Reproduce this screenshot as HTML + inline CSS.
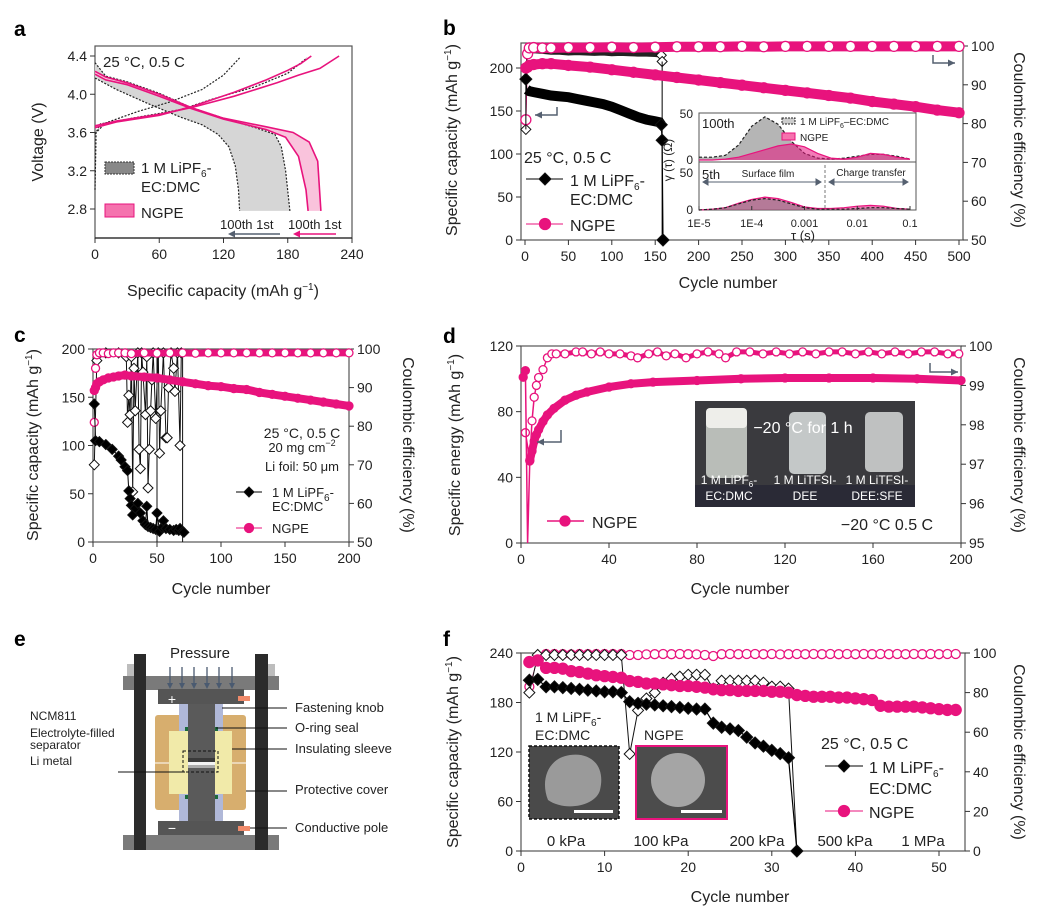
<!DOCTYPE html>
<html><head><meta charset="utf-8"><style>
body{margin:0;background:#fff;}
svg{display:block;font-family:"Liberation Sans",sans-serif;}
</style></head><body>
<svg id="fig" width="1046" height="913" viewBox="0 0 1046 913" xmlns="http://www.w3.org/2000/svg"></svg>
<script>
// ---------- DATA ----------
const aNgpeDis1 = [[0,4.24],[10,4.18],[30,4.12],[60,4.0],[90,3.86],[120,3.75],[160,3.66],[185,3.6],[200,3.5],[208,3.3],[211,2.78]];
const aNgpeDis100 = [[0,4.21],[10,4.15],[30,4.1],[60,3.98],[90,3.85],[120,3.74],[160,3.63],[178,3.55],[190,3.35],[197,3.0],[199,2.78]];
const aNgpeCh1 = [[0,3.67],[20,3.72],[60,3.79],[90,3.86],[130,3.98],[170,4.12],[190,4.2],[210,4.27],[228,4.4]];
const aNgpeCh100 = [[0,3.65],[20,3.71],[60,3.78],[90,3.87],[130,4.02],[160,4.15],[180,4.25],[192,4.32],[202,4.4]];
const aRefDis1 = [[0,4.33],[10,4.19],[30,4.13],[60,4.01],[90,3.86],[120,3.75],[150,3.65],[168,3.58],[174,3.45],[178,3.2],[182,2.78]];
const aRefDis100 = [[0,4.17],[20,4.05],[50,3.9],[80,3.76],[100,3.68],[115,3.58],[125,3.45],[131,3.25],[134,3.0],[135,2.78]];
const aRefCh1 = [[0,3.58],[5,3.69],[40,3.76],[80,3.84],[110,3.95],[150,4.08],[180,4.22],[198,4.38]];
const aRefCh100 = [[0,3.0],[1,3.6],[10,3.7],[40,3.82],[70,3.92],[100,4.05],[120,4.2],[135,4.38]];
const bNgpeCycles = [1,3,5,10,20,30,50,75,100,125,150,175,200,225,250,275,300,325,350,375,400,425,450,475,500];
const bNgpeCap = [200,201,203,204,205,205,203,201,198,195,192,189,186,183,180,177,174,171,168,165,161,158,155,151,148];
const bNgpeCE = [81,98,99.5,99.6,99.5,99.5,99.6,99.6,99.7,99.6,99.7,99.8,99.8,99.8,99.9,99.8,99.9,99.9,99.9,99.9,99.9,99.9,99.9,99.9,99.9];
const bRefCycles = [1,2,5,10,20,30,40,50,60,70,80,90,100,110,120,130,140,150,155,157,158,159];
const bRefCap = [187,175,173,172,170,168,167,166,164,162,160,158,155,151,147,143,140,138,137,134,116,0];
const bRefCE = [78.5,99,98.5,98.8,98.6,98.4,98.4,98.2,98.3,98.2,98.1,98.2,98.0,98.1,98.0,97.9,97.9,97.8,97.7,97.6,96,null];
const drtLog = [-5,-4.75,-4.5,-4.25,-4,-3.75,-3.5,-3.25,-3,-2.75,-2.5,-2.25,-2,-1.75,-1.5,-1.25,-1];
const drt100Ref = [3,3,5,16,36,46,38,20,7,2,1,2,4,6,6,4,1];
const drt100Ngpe = [0,0,1,3,7,11,15,17,14,7,2,1,3,7,6,3,1];
const drt5Ref = [0,1,3,8,13,15,13,8,3,1,1,1,2,3,3,2,1];
const drt5Ngpe = [0,1,3,9,14,17,15,10,4,2,2,3,5,6,5,2,1];
const cNgpeCycles = [1,2,3,5,8,12,16,20,25,30,40,50,60,70,80,90,100,110,120,130,140,150,160,170,180,190,200];
const cNgpeCap = [157,160,164,166,168,170,171,172,173,172,171,170,168,166,164,162,161,159,158,155,153,151,149,147,145,143,141];
const cNgpeCE = [81,95,98.5,99,99,98.8,99,99,99,98.8,99,98.9,99,99,98.9,99,99,99,99,99,99,99,99,99,99,99,99];
const cRefCycles = [1,2,5,10,15,20,22,25,27,28,29,30,31,33,35,37,39,41,42,43,45,47,49,50,52,54,55,57,60,63,65,67,68,70,71];
const cRefCap = [143,105,104,101,96,89,85,78,74,53,45,38,28,35,40,30,22,18,37,16,15,14,13,30,11,15,22,14,13,12,13,12,14,11,10];
const cRefCECycles = [1,3,10,20,26,27,28,29,30,31,32,33,35,36,37,38,39,41,42,43,44,45,46,47,49,51,52,53,55,57,58,59,61,63,64,66,68,69];
const cRefCE = [70,97,99,99,98,81,88,83,98,63,95,84,99,74,69,99,94,83,98,64,74,84,92,99,82,99,73,84,99,77,77,90,99,95,89,99,75,99];
const dCycles = [1,2,3,4,5,6,7,8,10,12,15,20,25,30,40,50,60,80,100,120,140,160,180,200];
const dEnergy = [101,105,0,50,56,62,66,69,74,78,82,87,90,92,95,97,98,99,100,100.5,100.5,100.5,100,99];
const dCECycles = [2,4,5,6,7,8,10,12,14,16,20,25,28,32,36,40,45,50,53,58,62,66,70,75,80,85,90,93,98,104,110,116,122,128,134,140,146,152,158,164,170,176,182,188,194,199];
const dCE = [97.8,97.1,98.1,98.7,99.0,99.2,99.4,99.7,99.8,99.8,99.8,99.85,99.85,99.8,99.85,99.8,99.8,99.75,99.7,99.8,99.85,99.75,99.8,99.7,99.8,99.85,99.8,99.7,99.85,99.85,99.8,99.85,99.8,99.85,99.8,99.85,99.85,99.8,99.85,99.8,99.85,99.8,99.85,99.85,99.8,99.8];
const fNgpeCap = [229,231,222,222,221,218,217,215,213,212,211,210,206,205,203,203,202,201,200,200,199,198,196,195,195,194,194,194,194,193,193,192,189,188,187,187,187,186,186,185,184,183,176,175,175,175,175,174,173,172,171,171];
const fNgpeCE = [83,97,99.5,99.5,99.4,99.3,99.5,99.4,99.5,99.5,99.5,99.5,99,99,99.3,99.4,99.5,99.4,99.5,99.4,99.3,99,98.5,99.4,99.5,99.4,99.5,99.5,99.4,99.5,99.3,99.4,99.5,99.4,99.5,99.4,99.5,99.4,99.5,99.4,99.5,99.4,99.5,99.4,99.5,99.4,99.5,99.4,99.5,99.4,99.5,99.5];
const fRefCap = [207,208,199,199,198,197,196,195,194,193,193,192,181,179,178,177,176,175,174,173,172,172,155,150,148,146,138,131,127,122,118,113,0];
const fRefCE = [80,99,99,99,99,99,99,99,99,99,99,99,49,71,77,80,85,87,88,89,89,89,82,86,86,86,86,86,85,83,83,82];

// ---------- HELPERS ----------
const NS='http://www.w3.org/2000/svg';
const svg=document.getElementById('fig');
const PINK='#e8137d';
function el(tag,attrs,name,parent){
  const e=document.createElementNS(NS,tag);
  for(const k in attrs) e.setAttribute(k,attrs[k]);
  
  
  (parent||svg).appendChild(e);
  return e;
}
function txt(x,y,s,name,o){
  o=o||{};
  const t=el('text',{x:x,y:y,'font-size':o.fs||14,fill:o.fill||'#222','text-anchor':o.anchor||'start','font-weight':o.fw||'normal'},name);
  if(o.rot) t.setAttribute('transform','rotate('+o.rot+' '+x+' '+y+')');
  t.innerHTML=s;
  return t;
}
function lin(d0,d1,r0,r1){return v=>r0+(v-d0)*(r1-r0)/(d1-d0);}
function pathOf(pts,X,Y){return pts.map((p,i)=>(i?'L':'M')+X(p[0]).toFixed(1)+','+Y(p[1]).toFixed(1)).join('');}
function box(x0,y0,x1,y1,name){el('rect',{x:x0,y:y0,width:x1-x0,height:y1-y0,fill:'none',stroke:'#555','stroke-width':1.2},name);}
function xTicks(vals,X,y,name,fs,labels){vals.forEach((v,i)=>{el('line',{x1:X(v),x2:X(v),y1:y,y2:y+5,stroke:'#333'},name+'-tick');txt(X(v),y+21,labels?labels[i]:v,name+'-label',{anchor:'middle',fs:fs||14});});}
function yTicks(vals,Y,x,side,name,fs,dec){vals.forEach(v=>{const d=side<0?-5:5;el('line',{x1:x,x2:x+d,y1:Y(v),y2:Y(v),stroke:'#333'},name+'-tick');txt(x+(side<0?-8:8),Y(v)+5,dec?v.toFixed(dec):v,name+'-label',{anchor:side<0?'end':'start',fs:fs||14});});}
function diamond(x,y,r,fill,name){el('path',{d:`M${x},${y-r}L${x+r},${y}L${x},${y+r}L${x-r},${y}Z`,fill:fill,stroke:'#111','stroke-width':1},name);}
function circ(x,y,r,fill,name){el('circle',{cx:x,cy:y,r:r,fill:fill,stroke:PINK,'stroke-width':1.3},name);}
function arrowL(xv,ytop,yb,xend,name){el('path',{d:`M${xv},${ytop}V${yb}H${xend}`,fill:'none',stroke:'#556070','stroke-width':1.5},name);el('path',{d:`M${xend},${yb}l7,-3.5v7z`,fill:'#556070'},name+'-head');}
function arrowR(xv,ytop,yb,xend,name){el('path',{d:`M${xv},${ytop}V${yb}H${xend}`,fill:'none',stroke:'#556070','stroke-width':1.5},name);el('path',{d:`M${xend},${yb}l-7,-3.5v7z`,fill:'#556070'},name+'-head');}
const LIPF='1 M LiPF<tspan dy="4" font-size="10">6</tspan><tspan dy="-4">-</tspan>';
const GUNIT='(mAh g<tspan dy="-6" font-size="10">−1</tspan><tspan dy="6">)</tspan>';

[['a',14,36],['b',443,35],['c',14,342],['d',443,343],['e',14,646],['f',443,646]].forEach(p=>txt(p[1],p[2],p[0],'panel-label-'+p[0],{fs:21,fw:'bold',fill:'#000'}));

// ---------- PANEL A ----------
(function(){
  const X=lin(0,240,95,352), Y=lin(2.8,4.4,209,56);
  box(95,46,352,238,'panel-a-plot-area');
  xTicks([0,60,120,180,240],X,238,'panel-a-x');
  yTicks([2.8,3.2,3.6,4.0,4.4],Y,95,-1,'panel-a-y',14,1);
  el('line',{x1:95,x2:352,y1:238,y2:238,stroke:'#222','stroke-width':1.3},'panel-a-x-axis');
  const band=(p1,p2,fill,name)=>el('path',{d:pathOf(p1,X,Y)+pathOf(p2.slice().reverse(),X,Y).replace('M','L')+'Z',fill:fill,stroke:'none'},name);
  band(aRefDis1,aRefDis100,'#d6d6d6','ref-discharge-band');
  band(aNgpeDis1,aNgpeDis100,'#f9c3dc','ngpe-discharge-band');
  [aRefDis1,aRefDis100,aRefCh1,aRefCh100].forEach((c,i)=>el('path',{d:pathOf(c,X,Y),fill:'none',stroke:'#222','stroke-width':1.2,'stroke-dasharray':'2,1.5'},'ref-curve-'+i));
  [aNgpeDis1,aNgpeDis100,aNgpeCh1,aNgpeCh100].forEach((c,i)=>el('path',{d:pathOf(c,X,Y),fill:'none',stroke:PINK,'stroke-width':1.6},'ngpe-curve-'+i));
  txt(103,67,'25 °C, 0.5 C','panel-a-condition',{fs:15});
  el('rect',{x:105,y:162,width:29,height:12,fill:'#888',stroke:'#333','stroke-dasharray':'2,1'},'legend-ref-swatch');
  txt(141,173,LIPF,'legend-ref-label',{fs:15});txt(141,192,'EC:DMC','legend-ref-label2',{fs:15});
  el('rect',{x:105,y:204,width:29,height:13,fill:'#f573ae',stroke:PINK},'legend-ngpe-swatch');
  txt(141,218,'NGPE','legend-ngpe-label',{fs:15});
  txt(220,229,'100th  1st','ref-cycle-label',{fs:13});txt(288,229,'100th 1st','ngpe-cycle-label',{fs:13});
  el('line',{x1:280,x2:232,y1:234,y2:234,stroke:'#556070','stroke-width':1.5},'ref-arrow');el('path',{d:'M228,234l7,-3.5v7z',fill:'#556070'},'ref-arrow-head');
  el('line',{x1:336,x2:297,y1:234,y2:234,stroke:PINK,'stroke-width':1.5},'ngpe-arrow');el('path',{d:'M293,234l7,-3.5v7z',fill:PINK},'ngpe-arrow-head');
  txt(43,142,'Voltage (V)','panel-a-y-title',{fs:16,rot:-90,anchor:'middle'});
  txt(223,296,'Specific capacity '+GUNIT,'panel-a-x-title',{fs:16,anchor:'middle'});
})();

// ---------- PANEL B ----------
(function(){
  const X=lin(0,500,525,959), Y=lin(0,200,240,68), R=lin(50,100,240,46);
  box(521,43,963,240,'panel-b-plot-area');
  xTicks([0,50,100,150,200,250,300,350,400,450,500],X,240,'panel-b-x');
  yTicks([0,50,100,150,200],Y,521,-1,'panel-b-y-left');
  yTicks([50,60,70,80,90,100],R,963,1,'panel-b-y-right');
  const rce=bRefCycles.map((c,i)=>[c,bRefCE[i]]).filter(p=>p[1]!==null);
  el('path',{d:pathOf(rce.slice(1),X,R),fill:'none',stroke:'#222','stroke-width':5},'ref-ce-band');
  el('path',{d:pathOf(rce.slice(0,2),X,R),fill:'none',stroke:'#222','stroke-width':1},'ref-ce-line');
  rce.forEach((p,i)=>{if(i===0||i>=rce.length-2)diamond(X(p[0]),R(p[1]),5,'#fff','ref-ce-point');});
  const nce=bNgpeCycles.map((c,i)=>[c,bNgpeCE[i]]);
  el('path',{d:pathOf(nce.slice(1),X,R),fill:'none',stroke:PINK,'stroke-width':10},'ngpe-ce-band');
  el('path',{d:pathOf(nce.slice(0,2),X,R),fill:'none',stroke:PINK,'stroke-width':1},'ngpe-ce-line');
  nce.forEach(p=>circ(X(p[0]),R(p[1]),5,'#fff','ngpe-ce-point'));
  const rc=bRefCycles.map((c,i)=>[c,bRefCap[i]]);
  el('path',{d:pathOf(rc.slice(1,-2),X,Y),fill:'none',stroke:'#000','stroke-width':10},'ref-capacity-band');
  el('path',{d:pathOf(rc,X,Y),fill:'none',stroke:'#000','stroke-width':1.2},'ref-capacity-line');
  el('line',{x1:X(158),x2:X(158),y1:R(96),y2:240,stroke:'#000','stroke-width':1},'ref-drop-line');
  el('line',{x1:X(1),x2:X(1),y1:Y(187),y2:R(78.5),stroke:'#000','stroke-width':1},'ref-first-line');
  [0,rc.length-3,rc.length-2,rc.length-1].forEach(i=>diamond(X(rc[i][0]),Y(rc[i][1]),6,'#000','ref-capacity-point'));
  const nc=bNgpeCycles.map((c,i)=>[c,bNgpeCap[i]]);
  el('path',{d:pathOf(nc,X,Y),fill:'none',stroke:PINK,'stroke-width':10,'stroke-linecap':'round'},'ngpe-capacity-band');
  nc.forEach(p=>circ(X(p[0]),Y(p[1]),5,PINK,'ngpe-capacity-point'));
  arrowL(557,107,115,535,'left-axis-arrow');arrowR(933,55,63,955,'right-axis-arrow');
  txt(524,163,'25 °C, 0.5 C','panel-b-condition',{fs:16});
  el('line',{x1:526,x2:563,y1:179,y2:179,stroke:'#000'},'legend-ref-line');diamond(545,179,6,'#000','legend-ref-marker');
  txt(570,186,LIPF,'legend-ref-label',{fs:16});txt(570,205,'EC:DMC','legend-ref-label2',{fs:16});
  el('line',{x1:526,x2:563,y1:224,y2:224,stroke:PINK},'legend-ngpe-line');circ(545,224,5.5,PINK,'legend-ngpe-marker');
  txt(570,231,'NGPE','legend-ngpe-label',{fs:16});
  txt(457,140,'Specific capacity '+GUNIT,'panel-b-y-left-title',{fs:16,rot:-90,anchor:'middle'});
  txt(1014,140,'Coulombic efficiency (%)','panel-b-y-right-title',{fs:16,rot:90,anchor:'middle'});
  txt(728,288,'Cycle number','panel-b-x-title',{fs:16,anchor:'middle'});
  el('rect',{x:699,y:113,width:217,height:97,fill:'#fff',stroke:'#555'},'drt-inset-background');
  const LX=lin(-5,-1,699,910), TY=lin(0,50,160,113), BY=lin(0,50,210,172);
  el('line',{x1:699,x2:916,y1:162,y2:162,stroke:'#555'},'drt-divider');
  const area=(vals,Yf,fill,stroke,dash,name)=>{const pts=drtLog.map((l,i)=>[l,vals[i]]);el('path',{d:pathOf(pts,LX,Yf)+`L${LX(-1)},${Yf(0)}L${LX(-5)},${Yf(0)}Z`,fill:fill,stroke:'none'},name+'-fill');el('path',{d:pathOf(pts,LX,Yf),fill:'none',stroke:stroke,'stroke-width':1.2,'stroke-dasharray':dash},name+'-line');};
  area(drt100Ref,TY,'rgba(150,150,150,0.7)','#222','3,2','drt-100th-ref');
  area(drt100Ngpe,TY,'rgba(232,19,125,0.55)',PINK,'','drt-100th-ngpe');
  area(drt5Ngpe,BY,'rgba(232,19,125,0.55)',PINK,'','drt-5th-ngpe');
  area(drt5Ref,BY,'rgba(120,120,120,0.5)','#222','3,2','drt-5th-ref');
  [[-5,'1E-5'],[-4,'1E-4'],[-3,'0.001'],[-2,'0.01'],[-1,'0.1']].forEach(t=>{el('line',{x1:LX(t[0]),x2:LX(t[0]),y1:210,y2:206,stroke:'#333'},'drt-x-tick');txt(LX(t[0]),227,t[1],'drt-x-label',{fs:11,anchor:'middle'});});
  [['50',118],['0',164],['50',177],['0',214]].forEach(t=>txt(693,t[1],t[0],'drt-y-label',{fs:12,anchor:'end'}));
  txt(672,160,'γ (τ) (Ω)','drt-y-title',{fs:12,rot:-90,anchor:'middle'});
  txt(803,240,'τ (s)','drt-x-title',{fs:13,anchor:'middle'});
  txt(702,128,'100th','drt-100th-label',{fs:13});txt(702,179,'5th','drt-5th-label',{fs:13});
  el('rect',{x:782,y:118,width:13,height:6,fill:'#ccc',stroke:'#222','stroke-dasharray':'2,1'},'drt-legend-ref');
  txt(800,125,'1 M LiPF<tspan dy="3" font-size="7">6</tspan><tspan dy="-3">–EC:DMC</tspan>','drt-legend-ref-label',{fs:10});
  el('rect',{x:782,y:133,width:13,height:7,fill:'#f573ae',stroke:PINK},'drt-legend-ngpe');
  txt(800,141,'NGPE','drt-legend-ngpe-label',{fs:10});
  txt(768,177,'Surface film','surface-film-label',{fs:10,anchor:'middle'});
  txt(871,176,'Charge transfer','charge-transfer-label',{fs:10,anchor:'middle'});
  el('line',{x1:825,x2:825,y1:165,y2:209,stroke:'#777','stroke-dasharray':'3,2'},'drt-separator');
  el('path',{d:'M703,182H821M703,182l5,-3v6zM821,182l-5,-3v6z',stroke:'#556070',fill:'#556070'},'surface-film-arrow');
  el('path',{d:'M829,182H908M829,182l5,-3v6zM908,182l-5,-3v6z',stroke:'#556070',fill:'#556070'},'charge-transfer-arrow');
})();

// ---------- PANEL C ----------
(function(){
  const X=lin(0,200,93,349), Y=lin(0,200,542,349), R=lin(50,100,542,349);
  box(93,349,349,542,'panel-c-plot-area');
  xTicks([0,50,100,150,200],X,542,'panel-c-x');
  yTicks([0,50,100,150,200],Y,93,-1,'panel-c-y-left');
  yTicks([50,60,70,80,90,100],R,349,1,'panel-c-y-right');
  const rce=cRefCECycles.map((c,i)=>[c,cRefCE[i]]);
  el('path',{d:pathOf(rce,X,R),fill:'none',stroke:'#111','stroke-width':1},'ref-ce-line');
  el('line',{x1:X(50),x2:X(50),y1:R(99),y2:542,stroke:'#111'},'ref-ce-drop-50');
  el('line',{x1:X(70),x2:X(70),y1:R(99),y2:542,stroke:'#111'},'ref-ce-drop-70');
  rce.forEach(p=>diamond(X(p[0]),R(p[1]),5,'#fff','ref-ce-point'));
  const nce=cNgpeCycles.map((c,i)=>[c,cNgpeCE[i]]);
  el('path',{d:pathOf(nce.slice(2),X,R),fill:'none',stroke:PINK,'stroke-width':7},'ngpe-ce-band');
  nce.forEach(p=>circ(X(p[0]),R(p[1]),4,'#fff','ngpe-ce-point'));
  const nc=cNgpeCycles.map((c,i)=>[c,cNgpeCap[i]]);
  el('path',{d:pathOf(nc,X,Y),fill:'none',stroke:PINK,'stroke-width':8,'stroke-linecap':'round'},'ngpe-capacity-band');
  nc.forEach(p=>circ(X(p[0]),Y(p[1]),4,PINK,'ngpe-capacity-point'));
  const rc=cRefCycles.map((c,i)=>[c,cRefCap[i]]);
  el('path',{d:pathOf(rc,X,Y),fill:'none',stroke:'#000','stroke-width':1},'ref-capacity-line');
  rc.forEach(p=>diamond(X(p[0]),Y(p[1]),5,'#000','ref-capacity-point'));
  txt(302,438,'25 °C, 0.5 C','panel-c-condition',{fs:14,anchor:'middle'});
  txt(302,452,'20 mg cm<tspan dy="-6" font-size="9">−2</tspan>','panel-c-loading',{fs:13,anchor:'middle'});
  txt(302,471,'Li foil: 50 μm','panel-c-li-foil',{fs:13,anchor:'middle'});
  el('line',{x1:236,x2:262,y1:492,y2:492,stroke:'#000'},'legend-ref-line');diamond(249,492,5,'#000','legend-ref-marker');
  txt(272,497,LIPF,'legend-ref-label',{fs:13});txt(272,511,'EC:DMC','legend-ref-label2',{fs:13});
  el('line',{x1:236,x2:262,y1:528,y2:528,stroke:PINK},'legend-ngpe-line');circ(249,528,4.5,PINK,'legend-ngpe-marker');
  txt(272,533,'NGPE','legend-ngpe-label',{fs:13});
  txt(38,445,'Specific capacity '+GUNIT,'panel-c-y-left-title',{fs:16,rot:-90,anchor:'middle'});
  txt(403,445,'Coulombic efficiency (%)','panel-c-y-right-title',{fs:16,rot:90,anchor:'middle'});
  txt(221,594,'Cycle number','panel-c-x-title',{fs:16,anchor:'middle'});
})();

// ---------- PANEL D ----------
(function(){
  const X=lin(0,200,521,961), Y=lin(0,120,543,346), R=lin(95,100,543,346);
  box(521,346,961,543,'panel-d-plot-area');
  xTicks([0,40,80,120,160,200],X,543,'panel-d-x');
  yTicks([0,40,80,120],Y,521,-1,'panel-d-y-left');
  yTicks([95,96,97,98,99,100],R,961,1,'panel-d-y-right');
  const ce=dCECycles.map((c,i)=>[c,dCE[i]]);
  el('path',{d:pathOf(ce,X,R),fill:'none',stroke:PINK,'stroke-width':1.5},'ngpe-ce-line');
  el('path',{d:pathOf(ce.slice(9),X,R),fill:'none',stroke:PINK,'stroke-width':5},'ngpe-ce-band');
  ce.forEach(p=>circ(X(p[0]),R(p[1]),4,'#fff','ngpe-ce-point'));
  const en=dCycles.map((c,i)=>[c,dEnergy[i]]);
  el('path',{d:pathOf(en,X,Y),fill:'none',stroke:PINK,'stroke-width':1.5},'ngpe-energy-line');
  el('path',{d:pathOf(en.slice(3),X,Y),fill:'none',stroke:PINK,'stroke-width':8,'stroke-linecap':'round'},'ngpe-energy-band');
  en.forEach(p=>{if(p[1]>0)circ(X(p[0]),Y(p[1]),4,PINK,'ngpe-energy-point');});
  arrowL(561,430,442,537,'left-axis-arrow');arrowR(930,363,372,958,'right-axis-arrow');
  el('line',{x1:547,x2:584,y1:521,y2:521,stroke:PINK,'stroke-width':1.5},'legend-ngpe-line');circ(565,521,5,PINK,'legend-ngpe-marker');
  txt(592,528,'NGPE','legend-ngpe-label',{fs:16});
  txt(887,530,'−20 °C 0.5 C','panel-d-condition',{fs:16,anchor:'middle'});
  el('rect',{x:695,y:401,width:220,height:106,fill:'#3a3a3e'},'vial-photo');
  el('rect',{x:695,y:485,width:220,height:22,fill:'#2a2a36'},'vial-photo-floor');
  el('rect',{x:706,y:408,width:41,height:70,rx:5,fill:'#b9bdb8'},'vial-1');
  el('rect',{x:706,y:408,width:41,height:20,rx:4,fill:'#eeeeea'},'vial-1-cap');
  el('rect',{x:789,y:412,width:37,height:62,rx:5,fill:'#c4c8c8'},'vial-2');
  el('rect',{x:865,y:412,width:38,height:60,rx:5,fill:'#bfc1c1'},'vial-3');
  txt(803,433,'−20 °C for 1 h','vial-photo-caption',{fs:16,anchor:'middle',fill:'#fff'});
  [[729,'1 M LiPF<tspan dy="3" font-size="8">6</tspan><tspan dy="-3">-</tspan>','EC:DMC'],[805,'1 M LiTFSI-','DEE'],[877,'1 M LiTFSI-','DEE:SFE']].forEach((v,i)=>{txt(v[0],484,v[1],'vial-label-'+i,{fs:12,anchor:'middle',fill:'#fff'});txt(v[0],500,v[2],'vial-label-'+i+'-b',{fs:12,anchor:'middle',fill:'#fff'});});
  txt(460,445,'Specific energy '+GUNIT,'panel-d-y-left-title',{fs:16,rot:-90,anchor:'middle'});
  txt(1014,445,'Coulombic efficiency (%)','panel-d-y-right-title',{fs:16,rot:90,anchor:'middle'});
  txt(740,594,'Cycle number','panel-d-x-title',{fs:16,anchor:'middle'});
})();

// ---------- PANEL E ----------
(function(){
  const R=(x,y,w,h,f,n,rx)=>el('rect',{x:x,y:y,width:w,height:h,fill:f,rx:rx||0},n);
  R(127,664,7,12,'#bdbdbd','top-plate-block-left');R(268,664,7,12,'#bdbdbd','top-plate-block-right');
  R(123,676,156,14,'#7a7a7a','top-plate');R(123,835,156,15,'#7a7a7a','bottom-plate');
  R(155,715,29,95,'#d7ae6e','protective-cover-left',3);R(217,715,29,95,'#d7ae6e','protective-cover-right',3);
  el('line',{x1:155,x2:246,y1:763,y2:763,stroke:'#fff','stroke-width':1},'cover-split-line');
  R(179,703,9,118,'#b0b8d8','insulating-sleeve-left');R(215,703,8,118,'#b0b8d8','insulating-sleeve-right');
  R(169,731,19,63,'#f1eaa9','yellow-spacer-left');R(214,731,18,63,'#f1eaa9','yellow-spacer-right');
  R(188,703,27,118,'#5a5a5a','central-column');
  R(188,758,27,4,'#3a3a3a','ncm-layer');R(188,762,27,3,'#f2f2f2','separator-layer');R(188,765,27,3,'#aaaaaa','li-layer');
  el('rect',{x:183,y:751,width:35,height:21,fill:'none',stroke:'#111','stroke-dasharray':'3,2'},'cell-highlight-box');
  [[185,727],[215,727],[185,795],[215,795]].forEach(p=>R(p[0],p[1],3,4,'#1c6b3c','o-ring'));
  R(158,689,86,15,'#555','fastening-knob-top');R(158,821,86,14,'#555','fastening-knob-bottom');
  R(238,696,12,5,'#f08a6a','pole-top');R(238,826,12,5,'#f08a6a','pole-bottom');
  txt(172,704,'+','positive-sign',{fs:14,fill:'#fff',anchor:'middle'});txt(172,833,'−','negative-sign',{fs:14,fill:'#fff',anchor:'middle'});
  R(134,654,12,196,'#2b2b2b','frame-bar-left');R(255,654,13,196,'#2b2b2b','frame-bar-right');
  [170,182,194,207,219,232].forEach(x=>{el('line',{x1:x,x2:x,y1:667,y2:684,stroke:'#4a5a70','stroke-width':1.3},'pressure-arrow');el('path',{d:`M${x},689l-3,-6h6z`,fill:'#4a5a70'},'pressure-arrow-head');});
  txt(200,658,'Pressure','pressure-label',{fs:15,anchor:'middle'});
  txt(30,720,'NCM811','label-ncm811',{fs:12});txt(30,737,'Electrolyte-filled','label-separator',{fs:12});txt(30,749,'separator','label-separator-2',{fs:12});txt(30,765,'Li metal','label-li-metal',{fs:12});
  el('line',{x1:118,x2:185,y1:772,y2:772,stroke:'#111'},'left-leader');
  [['Fastening knob',712,222,708],['O-ring seal',732,216,728],['Insulating sleeve',753,232,749],['Protective cover',794,246,791],['Conductive pole',832,250,828]].forEach((v,i)=>{el('line',{x1:v[2],x2:287,y1:v[3],y2:v[3],stroke:'#111'},'leader-'+i);txt(295,v[1],v[0],'component-label-'+i,{fs:13});});
})();

// ---------- PANEL F ----------
(function(){
  const X=lin(0,50,521,939), Y=lin(0,240,851,653), R=lin(0,100,851,653);
  box(521,653,965,851,'panel-f-plot-area');
  xTicks([0,10,20,30,40,50],X,851,'panel-f-x');
  yTicks([0,60,120,180,240],Y,521,-1,'panel-f-y-left');
  yTicks([0,20,40,60,80,100],R,965,1,'panel-f-y-right');
  const nce=fNgpeCE.map((v,i)=>[i+1,v]);
  el('path',{d:pathOf(nce,X,R),fill:'none',stroke:PINK,'stroke-width':0.8},'ngpe-ce-line');
  nce.forEach(p=>circ(X(p[0]),R(p[1]),4.5,'#fff','ngpe-ce-point'));
  const rce=fRefCE.map((v,i)=>[i+1,v]);
  el('path',{d:pathOf(rce,X,R)+`L${X(33)},${Y(0)}`,fill:'none',stroke:'#111','stroke-width':1},'ref-ce-line');
  rce.forEach(p=>diamond(X(p[0]),R(p[1]),5.5,'#fff','ref-ce-point'));
  const nc=fNgpeCap.map((v,i)=>[i+1,v]);
  el('path',{d:pathOf(nc,X,Y),fill:'none',stroke:PINK,'stroke-width':1},'ngpe-capacity-line');
  nc.forEach(p=>circ(X(p[0]),Y(p[1]),5.5,PINK,'ngpe-capacity-point'));
  const rc=fRefCap.map((v,i)=>[i+1,v]);
  el('path',{d:pathOf(rc,X,Y),fill:'none',stroke:'#000','stroke-width':1.2},'ref-capacity-line');
  rc.forEach(p=>diamond(X(p[0]),Y(p[1]),6,'#000','ref-capacity-point'));
  el('rect',{x:529,y:746,width:90,height:73,fill:'#4a4a4a',stroke:'#111','stroke-dasharray':'3,2','stroke-width':1.5},'sem-image-ref');
  el('path',{d:'M548,800C540,780 548,758 570,755C590,752 606,765 600,790C596,806 565,812 548,800Z',fill:'#9a9a9a'},'sem-ref-particle');
  el('rect',{x:574,y:810,width:39,height:3,fill:'#fff'},'sem-ref-scalebar');
  el('rect',{x:636,y:746,width:91,height:73,fill:'#4c4c4c',stroke:PINK,'stroke-width':2},'sem-image-ngpe');
  el('ellipse',{cx:678,cy:780,rx:27,ry:27,fill:'#a5a5a5'},'sem-ngpe-particle');
  el('rect',{x:681,y:810,width:41,height:3,fill:'#fff'},'sem-ngpe-scalebar');
  txt(535,722,LIPF,'sem-ref-label',{fs:14});txt(535,740,'EC:DMC','sem-ref-label2',{fs:14});
  txt(644,740,'NGPE','sem-ngpe-label',{fs:14});
  [[566,'0 kPa'],[661,'100 kPa'],[757,'200 kPa'],[845,'500 kPa'],[923,'1 MPa']].forEach((v,i)=>txt(v[0],846,v[1],'pressure-label-'+i,{fs:15,anchor:'middle'}));
  txt(821,749,'25 °C, 0.5 C','panel-f-condition',{fs:16});
  el('line',{x1:825,x2:863,y1:766,y2:766,stroke:'#000'},'legend-ref-line');diamond(844,766,6,'#000','legend-ref-marker');
  txt(869,773,LIPF,'legend-ref-label',{fs:16});txt(869,794,'EC:DMC','legend-ref-label2',{fs:16});
  el('line',{x1:825,x2:863,y1:811,y2:811,stroke:PINK},'legend-ngpe-line');circ(844,811,5.5,PINK,'legend-ngpe-marker');
  txt(869,818,'NGPE','legend-ngpe-label',{fs:16});
  txt(458,752,'Specific capacity '+GUNIT,'panel-f-y-left-title',{fs:16,rot:-90,anchor:'middle'});
  txt(1014,752,'Coulombic efficiency (%)','panel-f-y-right-title',{fs:16,rot:90,anchor:'middle'});
  txt(740,902,'Cycle number','panel-f-x-title',{fs:16,anchor:'middle'});
})();
</script>
</body></html>
